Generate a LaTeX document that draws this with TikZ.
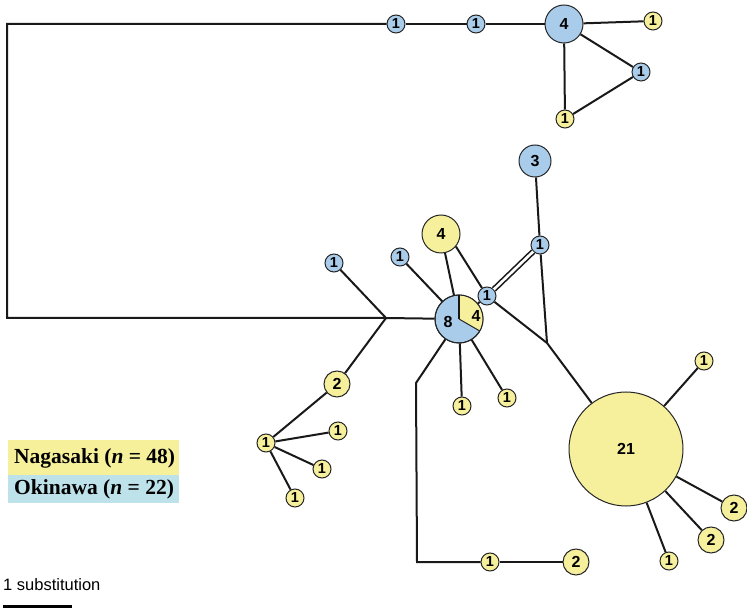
\documentclass[tikz,border=0pt]{standalone}
\usepackage{fontspec}
\setmainfont{Liberation Serif}
\newfontfamily\numfont{Liberation Sans}
\definecolor{hblue}{HTML}{A9CCEB}
\definecolor{hyel}{HTML}{F6EF9C}
\definecolor{lgblue}{HTML}{BEE2EA}
\definecolor{lgyel}{HTML}{F7F09B}
\tikzset{
  hap/.style={circle, draw=black!85, line width=1pt, inner sep=0pt, font=\numfont\bfseries\fontsize{14.5}{14.5}\selectfont},
  one/.style={hap, minimum size=18pt},
  two/.style={hap, minimum size=26pt, font=\numfont\bfseries\fontsize{16}{16}\selectfont},
  three/.style={hap, minimum size=32pt, font=\numfont\bfseries\fontsize{16}{16}\selectfont},
  four/.style={hap, minimum size=38pt, font=\numfont\bfseries\fontsize{16}{16}\selectfont},
  big/.style={hap, minimum size=114pt, font=\numfont\bfseries\fontsize{16}{16}\selectfont},
  B/.style={fill=hblue},
  Y/.style={fill=hyel},
  edge/.style={line width=2pt, black!90},
}
\begin{document}
\begin{tikzpicture}[x=1pt,y=1pt]
\useasboundingbox (0,0) rectangle (747,-609);
% top group
\node[one,B] (a) at (396,-24) {1};
\node[one,B] (b) at (476,-24) {1};
\node[four,B] (c) at (564,-24) {4};
\node[one,Y] (d) at (653,-21) {1};
\node[one,B] (e) at (641,-72) {1};
\node[one,Y] (f) at (565,-119) {1};
% middle
\node[three,B] (v) at (535,-161) {3};
\node[one,B] (u) at (540,-245) {1};
\node[four,Y] (n) at (441,-234) {4};
\node[one,B] (m) at (400,-257) {1};
\node[one,B] (o) at (487,-296) {1};
\node[hap,B,minimum size=48pt] (p) at (459,-319) {};
\fill[hyel] (p.center) -- ++(90:24pt) arc[start angle=90,end angle=-30,radius=24pt] -- cycle;
\draw[black!85,line width=1pt] (p.center) circle[radius=24pt];
\draw[black!90,line width=1.4pt] (p.center) -- ++(90:24pt);
\draw[black!85,line width=1pt] (p.center) -- ++(-30:24pt);
\node[font=\numfont\bfseries\fontsize{16}{16}\selectfont] (p8) at (448,-322) {8};
\node[font=\numfont\bfseries\fontsize{16}{16}\selectfont] (p4) at (476,-316) {4};
\node[one,Y] (q) at (462,-406) {1};
\node[one,Y] (r) at (507,-398) {1};
\node[one,Y] (s) at (490,-562) {1};
\node[two,Y] (t) at (576,-562) {2};
% left
\node[one,B] (g) at (334,-263) {1};
\node[two,Y] (h) at (337,-384) {2};
\node[one,Y] (i) at (266,-443) {1};
\node[one,Y] (j) at (338,-431) {1};
\node[one,Y] (k) at (322,-469) {1};
\node[one,Y] (l) at (295,-498) {1};
% big
\node[big,Y] (w) at (626,-449) {21};
\node[one,Y] (x) at (704,-361) {1};
\node[two,Y] (y) at (734,-508) {2};
\node[two,Y] (z) at (711,-540) {2};
\node[one,Y] (aa) at (669,-561) {1};
% coordinates
\coordinate (C1) at (7,-24);
\coordinate (C2) at (7,-318);
\coordinate (J1) at (386,-318);
\coordinate (J2) at (547,-343);
\coordinate (B1) at (416,-383);
\coordinate (B2) at (417,-562);
% edges
\draw[edge] (a) -- (C1) -- (C2) -- (J1) -- (p);
\draw[edge] (a) -- (b);
\draw[edge] (b) -- (c);
\draw[edge] (c) -- (d);
\draw[edge] (c) -- (e);
\draw[edge] (c) -- (f);
\draw[edge] (e) -- (f);
\draw[edge] (J1) -- (g);
\draw[edge] (J1) -- (h);
\draw[edge] (h) -- (i);
\draw[edge] (i) -- (j);
\draw[edge] (i) -- (k);
\draw[edge] (i) -- (l);
\draw[edge] (p) -- (m);
\draw[edge] (p) -- (n);
\draw[edge] (p) -- (o);
\draw[edge] (p) -- (q);
\draw[edge] (p) -- (r);
\draw[edge] (p) -- (B1) -- (B2) -- (s);
\draw[edge] (s) -- (t);
\draw[edge] (n.-40) -- (o);
\draw[edge] (o) -- (J2);
\draw[edge, line width=1.6pt, double=white, double distance=2.6pt] (o) -- (u);
\draw[edge] (u) -- (v);
\draw[edge] (u) -- (J2);
\draw[edge] (J2) -- (w);
\draw[edge] (w) -- (x);
\draw[edge] (w) -- (y);
\draw[edge] (w) -- (z);
\draw[edge] (w) -- (aa);
% legend
\fill[lgyel] (8,-440) rectangle (179,-475);
\fill[lgblue] (8,-475) rectangle (179,-503);
\node[anchor=west, font=\bfseries\fontsize{21.5}{21.5}\selectfont, inner sep=0pt] (lg1) at (14,-458) {Nagasaki (\textit{n} = 48)};
\node[anchor=west, font=\bfseries\fontsize{21.5}{21.5}\selectfont, inner sep=0pt] (lg2) at (14,-489) {Okinawa (\textit{n} = 22)};
% scale
\node[anchor=west, font=\numfont\fontsize{16.5}{16.5}\selectfont, inner sep=0pt] (sc) at (3,-585) {1 substitution};
\coordinate (s1) at (3,-606);
\coordinate (s2) at (72,-606);
\draw[line width=3pt] (s1) -- (s2);
\end{tikzpicture}
\end{document}
